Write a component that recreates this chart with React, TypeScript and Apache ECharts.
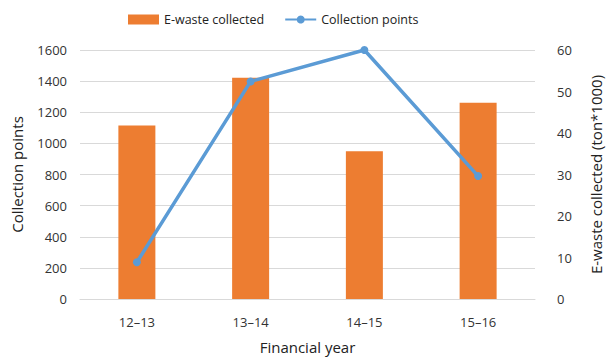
import React, { useEffect, useRef } from "react";
import * as echarts from "echarts";

const categories = ["12\u201313", "13\u201314", "14\u201315", "15\u201316"];
const ewasteCollected = [41.8, 53.3, 35.6, 47.3];
const collectionPoints = [236, 1398, 1600, 790];

const FONT = "Open Sans";

export default function App() {
  const ref = useRef<HTMLDivElement>(null);
  useEffect(() => {
    if (!ref.current) return;
    document.body.style.margin = "0";
    const chart = echarts.init(ref.current, null, { renderer: "svg" });
    chart.setOption({
      animation: false,
      textStyle: { fontFamily: FONT },
      legend: {
        top: 8,
        left: 123,
        itemGap: 20,
        itemWidth: 31,
        itemHeight: 10,
        textStyle: { fontFamily: FONT, fontSize: 12.5, color: "#222" },
        data: [
          { name: "E-waste collected", icon: "rect" },
          { name: "Collection points" },
        ],
      },
      grid: { left: 80, right: 71, top: 50, bottom: 58 },
      xAxis: {
        type: "category",
        data: categories,
        axisLine: { show: true, lineStyle: { color: "#d9d9d9", width: 1 } },
        axisTick: { show: false },
        axisLabel: { fontFamily: FONT, fontSize: 13, color: "#333", margin: 16 },
        name: "Financial year",
        nameLocation: "middle",
        nameGap: 40,
        nameTextStyle: { fontFamily: FONT, fontSize: 15, color: "#222" },
      },
      yAxis: [
        {
          type: "value",
          min: 0,
          max: 1600,
          interval: 200,
          axisLine: { show: false },
          axisTick: { show: false },
          splitLine: { lineStyle: { color: "#d9d9d9", width: 1 } },
          axisLabel: {
            fontFamily: FONT,
            fontSize: 13,
            color: "#333",
            margin: 13,
            formatter: (v: number) => String(v),
          },
          name: "Collection points",
          nameLocation: "middle",
          nameRotate: 90,
          nameGap: 56,
          nameTextStyle: { fontFamily: FONT, fontSize: 15, color: "#222" },
        },
        {
          type: "value",
          min: 0,
          max: 60,
          interval: 10,
          axisLine: { show: false },
          axisTick: { show: false },
          splitLine: { show: false },
          axisLabel: {
            fontFamily: FONT,
            fontSize: 13,
            color: "#333",
            margin: 22,
            formatter: (v: number) => String(v),
          },
          name: "E-waste collected (ton*1000)",
          nameLocation: "middle",
          nameRotate: 90,
          nameGap: 53,
          nameTextStyle: { fontFamily: FONT, fontSize: 15, color: "#222" },
        },
      ],
      series: [
        {
          name: "E-waste collected",
          type: "bar",
          yAxisIndex: 1,
          data: ewasteCollected,
          barWidth: 37,
          itemStyle: { color: "#ED7D31" },
        },
        {
          name: "Collection points",
          type: "line",
          yAxisIndex: 0,
          data: collectionPoints,
          symbol: "circle",
          symbolSize: 8,
          lineStyle: { color: "#5B9BD5", width: 3.5 },
          itemStyle: { color: "#5B9BD5" },
        },
      ],
    });
    return () => chart.dispose();
  }, []);
  return <div ref={ref} style={{ width: 611, height: 359 }} />;
}
